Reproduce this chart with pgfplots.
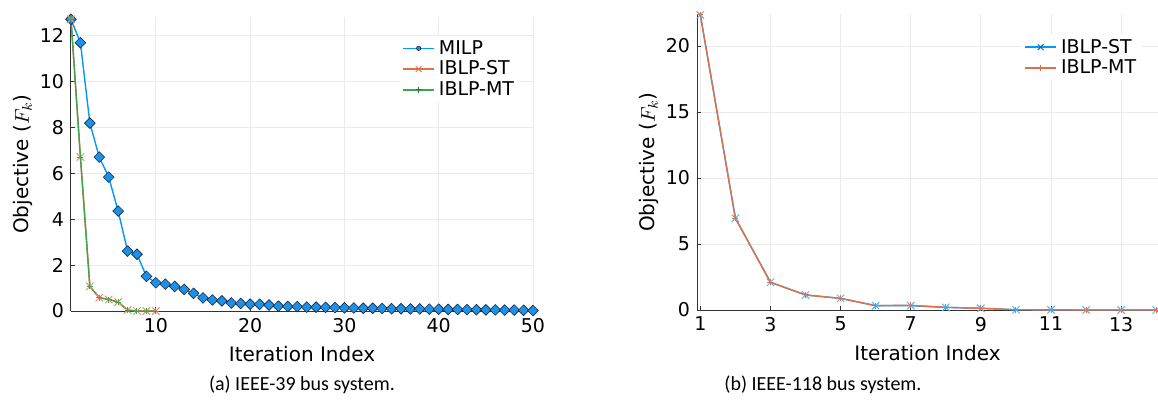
\documentclass[border=0pt]{standalone}
\usepackage{fontspec}
\setmainfont{DejaVu Sans}
\newfontfamily\capfont{Carlito}
\usepackage{pgfplots}
\pgfplotsset{compat=1.18}

\definecolor{jblue}{RGB}{0,154,250}
\definecolor{jorange}{RGB}{227,111,71}
\definecolor{jgreen}{RGB}{62,164,78}
\definecolor{jmark}{RGB}{30,144,230}
\definecolor{jedge}{RGB}{20,40,70}

\pgfplotsset{
  jstyle/.style={
    scale only axis,
    axis lines=left,
    axis line style={-, draw=black!80, line width=0.5pt},
    tick align=inside,
    major tick length=2pt,
    tick style={black!80, line width=0.4pt},
    grid=major,
    grid style={black!8, line width=0.4pt},
    tick label style={font=\fontsize{9.5}{11}\selectfont},
    label style={font=\fontsize{10}{12}\selectfont},
    ylabel style={yshift=-3.5pt},
    /pgf/number format/assume math mode=true,
    clip=false,
    legend cell align=left,
    legend style={draw=none, fill=white, font=\fontsize{9.5}{10.5}\selectfont,
      inner sep=1pt, row sep=0pt,
      nodes={inner ysep=0.8pt, text height=7.3pt, text depth=1.5pt}},
  },
  % legend samples: a line with a small mark in the middle
  legline/.style n args={2}{legend image code/.code={
      \draw[#1, line width=0.8pt] (0pt,0pt) -- (15.5pt,0pt);
      #2}},
}
\newcommand{\legx}[1]{\draw[#1, line width=0.5pt] (7.75pt,0pt) +(-1.4pt,-1.4pt) -- +(1.4pt,1.4pt) +(-1.4pt,1.4pt) -- +(1.4pt,-1.4pt);}
\newcommand{\legp}[1]{\draw[#1, line width=0.5pt] (7.75pt,0pt) +(0pt,-1.5pt) -- +(0pt,1.5pt) +(-1.5pt,0pt) -- +(1.5pt,0pt);}

% IEEE-39
\pgfplotstableread{
k F
1 12.7
2 11.68
3 8.18
4 6.7
5 5.83
6 4.35
7 2.61
8 2.47
9 1.51
10 1.23
11 1.17
12 1.07
13 0.94
14 0.77
15 0.57
16 0.48
17 0.44
18 0.35
19 0.33
20 0.30
21 0.29
22 0.26
23 0.21
24 0.20
25 0.19
26 0.17
27 0.17
28 0.16
29 0.15
30 0.14
31 0.13
32 0.12
33 0.12
34 0.11
35 0.10
36 0.10
37 0.09
38 0.09
39 0.08
40 0.08
41 0.07
42 0.07
43 0.06
44 0.06
45 0.05
46 0.05
47 0.04
48 0.04
49 0.03
50 0.02
}\milp

\pgfplotstableread{
k F
1 12.7
2 6.7
3 1.07
4 0.58
5 0.5
6 0.39
7 0.04
8 0.0
9 0.0
10 0.0
}\stA

\pgfplotstableread{
k F
1 12.7
2 6.7
3 1.07
4 0.58
5 0.5
6 0.39
7 0.04
8 0.0
9 0.0
10 0.0
}\mtA

% IEEE-118
\pgfplotstableread{
k F
1 22.35
2 6.95
3 2.1
4 1.14
5 0.88
6 0.33
7 0.33
8 0.2
9 0.13
10 0.02
11 0.01
12 0.0
13 0.0
14 0.0
}\stB

\pgfplotstableread{
k F
1 22.35
2 6.95
3 2.1
4 1.14
5 0.88
6 0.33
7 0.36
8 0.2
9 0.13
10 0.02
11 0.01
12 0.0
13 0.0
14 0.0
}\mtB

\begin{document}
\begin{tikzpicture}
\useasboundingbox (0,0) rectangle (579pt,201.5pt);

\begin{axis}[jstyle,
  at={(35.5pt,46pt)}, anchor=origin,
  width=231pt, height=147pt,
  xmin=1, xmax=50, ymin=0, ymax=12.8,
  xtick={10,20,30,40,50},
  ytick={0,2,4,6,8,10,12},
  xlabel={Iteration Index},
  ylabel={Objective ($F_k$)},
  legend style={at={(0.712,0.937)}, anchor=north west},
]
\addplot[jblue, line width=0.7pt, mark=square*,
  mark options={rotate=45, fill=jmark, draw=jedge, line width=0.3pt},
  mark size=1.9pt,
  legline={jblue}{\filldraw[fill=jmark, draw=jedge, line width=0.3pt] (7.75pt,0pt) circle (1.1pt);}]
  table[x=k,y=F] {\milp};
\addplot[jorange, line width=0.7pt, mark=x, mark size=2.6pt,
  mark options={line width=0.5pt, draw=jorange!80},
  legline={jorange}{\legx{jorange}}]
  table[x=k,y=F] {\stA};
\addplot[jgreen, line width=0.7pt, mark=+, mark size=1.5pt,
  mark options={line width=0.5pt},
  legline={jgreen}{\legp{jgreen!70!black}}]
  table[x=k,y=F] {\mtA};
\legend{MILP, IBLP-ST, IBLP-MT}
\end{axis}

\begin{axis}[jstyle,
  at={(348.5pt,46.5pt)}, anchor=origin,
  width=230.5pt, height=148pt,
  xmin=0.905, xmax=14.05, ymin=0, ymax=22.42,
  xtick={1,3,5,7,9,11,13},
  ytick={0,5,10,15,20},
  xlabel={Iteration Index},
  ylabel={Objective ($F_k$)},
  legend style={at={(0.705,0.931)}, anchor=north west},
]
\addplot[jblue, line width=0.7pt, mark=x, mark size=2.6pt,
  mark options={line width=0.5pt, draw=jblue!70},
  legline={jblue}{\legx{jblue!70!black}}]
  table[x=k,y=F] {\stB};
\addplot[jorange, line width=0.7pt, mark=+, mark size=1.5pt,
  mark options={line width=0.5pt},
  legline={jorange}{\legp{jorange}}]
  table[x=k,y=F] {\mtB};
\legend{IBLP-ST, IBLP-MT}
\end{axis}

\node[font=\capfont\fontsize{10}{12}\selectfont] at (151pt,9pt) {(a) IEEE-39 bus system.};
\node[font=\capfont\fontsize{10}{12}\selectfont] at (411.5pt,9pt) {(b) IEEE-118 bus system.};
\end{tikzpicture}
\end{document}
